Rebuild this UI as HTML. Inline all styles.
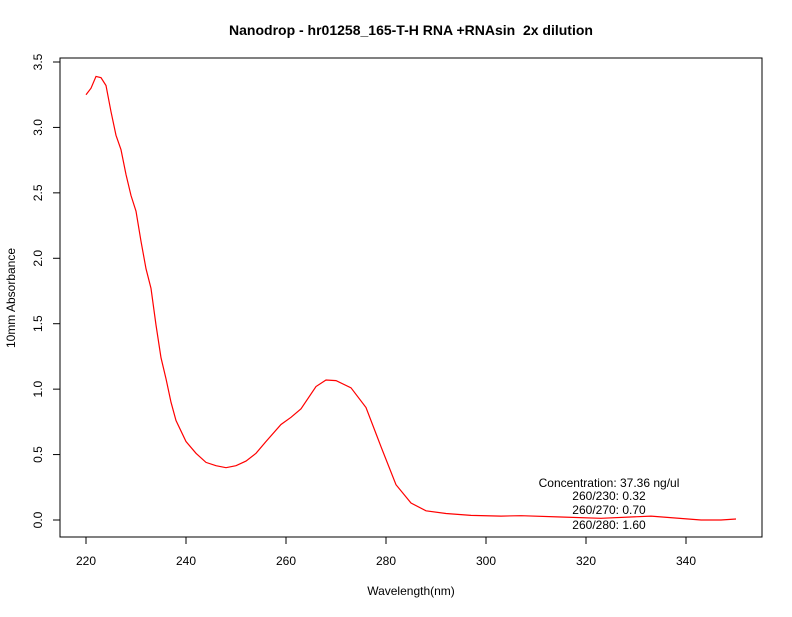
<!DOCTYPE html>
<html><head><meta charset="utf-8"><style>
body{margin:0;background:#fff}
svg text{font-family:"Liberation Sans",sans-serif}
</style></head><body>
<svg width="792" height="612" viewBox="0 0 792 612">
<rect width="792" height="612" fill="#fff"/>
<text x="411" y="35" text-anchor="middle" font-size="14" font-weight="bold">Nanodrop - hr01258_165-T-H RNA +RNAsin &#160;2x dilution</text>
<rect x="60" y="58" width="702" height="479" fill="none" stroke="#000"/>
<g id="xaxis"></g>
<g id="yaxis"></g>
<text x="411" y="595" text-anchor="middle" font-size="12">Wavelength(nm)</text>
<text transform="translate(15,298) rotate(-90)" text-anchor="middle" font-size="12">10mm Absorbance</text>
<path id="curve" fill="none" stroke="#ff0000" stroke-width="1.2"/>
<g font-size="12" text-anchor="middle">
<text x="609" y="487">Concentration: 37.36 ng/ul</text>
<text x="609" y="500">260/230: 0.32</text>
<text x="609" y="514">260/270: 0.70</text>
<text x="609" y="529">260/280: 1.60</text>
</g>
</svg>
<script>
const wavelengths=[220,221,222,223,224,225,226,227,228,229,230,231,232,233,234,235,236,237,238,240,242,244,246,248,250,252,254,256,259,261,263,266,268,270,273,276,278,279,282,285,288,292,297,303,307,315,323,333,343,347,350];
const absorbance=[3.25,3.30,3.39,3.38,3.32,3.12,2.94,2.83,2.64,2.48,2.36,2.13,1.92,1.77,1.49,1.24,1.08,0.90,0.76,0.60,0.51,0.44,0.415,0.40,0.415,0.45,0.51,0.60,0.73,0.785,0.85,1.02,1.07,1.065,1.01,0.86,0.66,0.56,0.27,0.13,0.07,0.05,0.035,0.03,0.033,0.023,0.013,0.03,0.0,0.0,0.008];
const xTicks=[220,240,260,280,300,320,340];
const yTicks=[0,0.5,1,1.5,2,2.5,3,3.5];
const X=v=>86+(v-220)*5;
const Y=v=>520-v*130.86;
const NS="http://www.w3.org/2000/svg";
const xa=document.getElementById('xaxis'), ya=document.getElementById('yaxis');
function mk(tag,attrs,parent){const e=document.createElementNS(NS,tag);for(const k in attrs)e.setAttribute(k,attrs[k]);parent.appendChild(e);return e;}
xTicks.forEach(t=>{
 const l=mk('line',{x1:X(t),x2:X(t),y1:537,y2:544,stroke:'#000'},xa);
 
 
 const tx=mk('text',{x:X(t),y:565,'text-anchor':'middle','font-size':12},xa);
 tx.textContent=t;
 
 
});
yTicks.forEach(t=>{
 const l=mk('line',{x1:53,x2:60,y1:Y(t),y2:Y(t),stroke:'#000'},ya);
 
 
 const tx=mk('text',{transform:`translate(42,${Y(t)}) rotate(-90)`,'text-anchor':'middle','font-size':12},ya);
 tx.textContent=t.toFixed(1);
 
 
});
document.getElementById('curve').setAttribute('d',wavelengths.map((w,i)=>(i?'L':'M')+X(w).toFixed(1)+','+Y(absorbance[i]).toFixed(1)).join(''));
</script>
</body></html>
